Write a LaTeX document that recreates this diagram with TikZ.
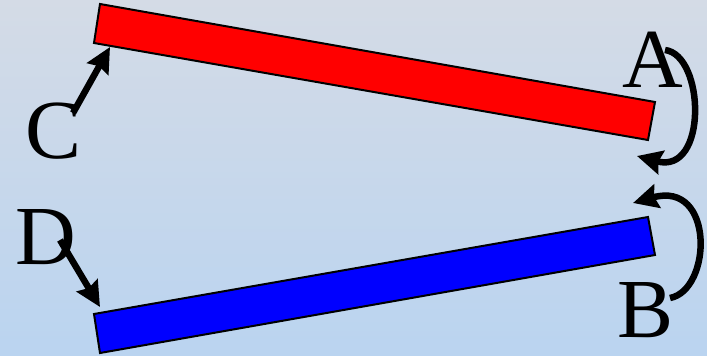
\documentclass[tikz,border=0pt]{standalone}
\usepackage{fontspec}
\setmainfont{Liberation Serif}
\usetikzlibrary{arrows.meta}

\definecolor{bgtop}{RGB}{212,219,230}
\definecolor{bgbot}{RGB}{186,212,240}

\begin{document}
\begin{tikzpicture}[x=1pt,y=-1pt,
    lbl/.style={inner sep=0pt,font=\fontsize{84}{84}\selectfont},
    arr/.style={line width=6.5pt,-{Stealth[length=25pt,width=24pt,inset=3pt]}},
    bar/.style={draw=black,line width=2pt}]
\shade[top color=bgtop,bottom color=bgbot] (0,0) rectangle (707,356);
\useasboundingbox (0,0) rectangle (707,356);

    % bars
\filldraw[bar,fill=red] (100,4) -- (655,102) -- (648,140) -- (94,43) -- cycle;
\filldraw[bar,fill=blue] (94,314) -- (648,217) -- (655,255) -- (100,353) -- cycle;

\coordinate (r1) at (110,47);
\coordinate (r2) at (637,156);
\coordinate (b1) at (100,307);
\coordinate (b2) at (633,203);

\node[lbl] (A) at (653,60) {A};
\node[lbl] (B) at (646,310) {B};
\node[lbl] (C) at (54,131) {C};
\node[lbl] (D) at (46,237) {D};

\coordinate (a0) at (665,50);
\coordinate (b0) at (670,298);
\coordinate (c0) at (73,113);
\coordinate (d0) at (60,240);

\draw[arr] (c0) -- (r1);
\draw[arr] (d0) -- (b1);

\draw[arr] (a0) .. controls (705,55) and (708,175) .. (r2);
\draw[arr] (b0) .. controls (712,290) and (715,180) .. (b2);

\end{tikzpicture}
\end{document}
